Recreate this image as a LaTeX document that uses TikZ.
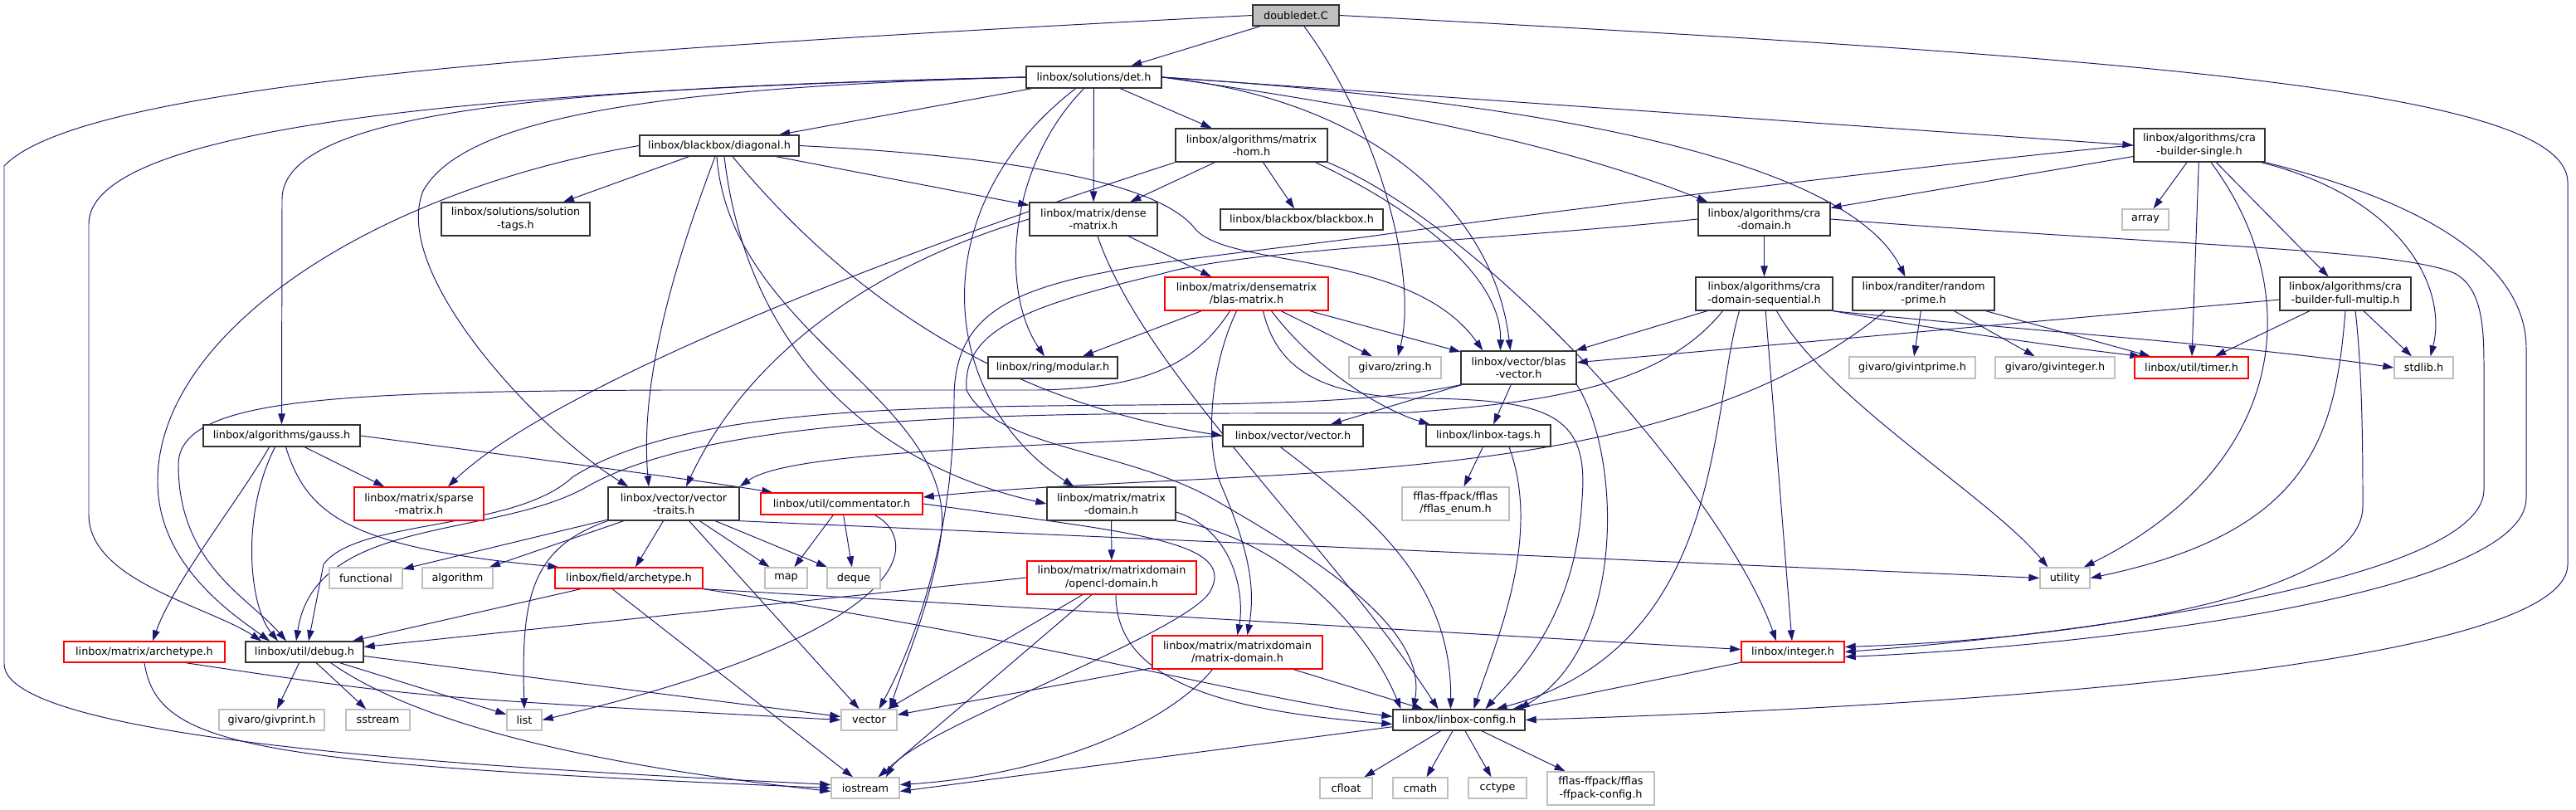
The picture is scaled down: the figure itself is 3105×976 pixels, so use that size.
\documentclass[tikz,border=0pt]{standalone}
\usepackage{fontspec}
\setmainfont{DejaVu Sans}
\usetikzlibrary{arrows.meta,calc}
\definecolor{mb}{HTML}{191970}
\definecolor{gb}{HTML}{BFBFBF}
\newcommand{\nodefnt}{\fontsize{7.3}{8.6}\selectfont}
\pgfdeclarelayer{back}
\pgfdeclarelayer{edges}
\pgfsetlayers{back,edges,main}
\tikzset{
  nbase/.style={rectangle, inner sep=0pt, align=center, font=\nodefnt, fill=white, line width=0.8pt},
  bk/.style={nbase, draw=black!80},
  gy/.style={nbase, draw=gb},
  rd/.style={nbase, draw=red},
  sz/.style 2 args={minimum width=#1cm, minimum height=#2cm},
  dep/.style={draw=mb, line width=0.55pt, -{Triangle[length=0.26cm,width=0.17cm]}},
}
\begin{document}
\begin{tikzpicture}[x=0.02cm,y=-0.02cm]
\useasboundingbox (0,0) rectangle (3105,976);
\begin{pgfonlayer}{back}
\fill[white] (0,0) rectangle (3105,976);
\end{pgfonlayer}
% nodes
\node[bk, fill=gb, sz={2.08}{0.50}] (doubledet) at (1562,18.5) {doubledet.C};
\node[bk, sz={3.26}{0.52}] (det) at (1318.5,93) {linbox/solutions/det.h};
\node[bk, sz={3.84}{0.50}] (diagonal) at (867,175.5) {linbox/blackbox/diagonal.h};
\node[bk, sz={3.66}{0.80}] (matrixhom) at (1508.5,175) {linbox/algorithms/matrix\\-hom.h};
\node[bk, sz={3.16}{0.80}] (crasingle) at (2651,175) {linbox/algorithms/cra\\-builder-single.h};
\node[bk, sz={3.58}{0.80}] (soltags) at (621.5,264) {linbox/solutions/solution\\-tags.h};
\node[bk, sz={3.08}{0.80}] (densematrix) at (1318,264) {linbox/matrix/dense\\-matrix.h};
\node[bk, sz={3.92}{0.50}] (blackbox) at (1569,264.5) {linbox/blackbox/blackbox.h};
\node[bk, sz={3.18}{0.80}] (cradomain) at (2126.5,264) {linbox/algorithms/cra\\-domain.h};
\node[gy, sz={1.12}{0.50}] (array) at (2586,264.5) {array};
\node[rd, sz={3.94}{0.80}] (blasmatrix) at (1502.5,354) {linbox/matrix/densematrix\\/blas-matrix.h};
\node[bk, sz={3.30}{0.80}] (cradomseq) at (2126.5,354) {linbox/algorithms/cra\\-domain-sequential.h};
\node[bk, sz={3.42}{0.80}] (randprime) at (2318.5,354) {linbox/randiter/random\\-prime.h};
\node[bk, sz={3.16}{0.80}] (fullmultip) at (2827,354) {linbox/algorithms/cra\\-builder-full-multip.h};
\node[bk, sz={3.12}{0.52}] (modular) at (1269,443) {linbox/ring/modular.h};
\node[gy, sz={2.22}{0.52}] (zring) at (1681.5,443) {givaro/zring.h};
\node[bk, sz={2.78}{0.80}] (blasvector) at (1830.5,443) {linbox/vector/blas\\-vector.h};
\node[gy, sz={3.04}{0.52}] (givintprime) at (2305,443) {givaro/givintprime.h};
\node[gy, sz={2.88}{0.52}] (givinteger) at (2477,443) {givaro/givinteger.h};
\node[rd, sz={2.74}{0.52}] (timer) at (2641.5,443) {linbox/util/timer.h};
\node[gy, sz={1.42}{0.52}] (stdlib) at (2921.5,443) {stdlib.h};
\node[bk, sz={3.78}{0.52}] (gauss) at (339.5,525) {linbox/algorithms/gauss.h};
\node[bk, sz={3.38}{0.52}] (vectorh) at (1558.5,525) {linbox/vector/vector.h};
\node[bk, sz={3.00}{0.52}] (linboxtags) at (1794,525) {linbox/linbox-tags.h};
\node[rd, sz={3.12}{0.80}] (sparse) at (505,607) {linbox/matrix/sparse\\-matrix.h};
\node[bk, sz={3.16}{0.80}] (vectortraits) at (812,607) {linbox/vector/vector\\-traits.h};
\node[rd, sz={3.90}{0.52}] (commentator) at (1014.5,607) {linbox/util/commentator.h};
\node[bk, sz={3.10}{0.80}] (matrixdomain) at (1339.5,607) {linbox/matrix/matrix\\-domain.h};
\node[gy, sz={2.58}{0.80}] (fflasenum) at (1754.5,607) {fflas-ffpack/fflas\\/fflas\_enum.h};
\node[gy, sz={1.76}{0.50}] (functional) at (441,696.5) {functional};
\node[gy, sz={1.70}{0.50}] (algorithm) at (551.5,696.5) {algorithm};
\node[rd, sz={3.56}{0.50}] (fieldarch) at (758,696.5) {linbox/field/archetype.h};
\node[gy, sz={1.02}{0.50}] (map) at (947.5,696.5) {map};
\node[gy, sz={1.28}{0.50}] (deque) at (1029,696.5) {deque};
\node[rd, sz={4.08}{0.80}] (opencl) at (1340,696) {linbox/matrix/matrixdomain\\/opencl-domain.h};
\node[gy, sz={1.20}{0.50}] (utility) at (2489,696.5) {utility};
\node[rd, sz={3.88}{0.50}] (matrixarch) at (174,785.5) {linbox/matrix/archetype.h};
\node[bk, sz={2.84}{0.50}] (debug) at (367,785.5) {linbox/util/debug.h};
\node[rd, sz={4.10}{0.80}] (matrixdomain2) at (1491.5,786) {linbox/matrix/matrixdomain\\/matrix-domain.h};
\node[rd, sz={2.48}{0.50}] (integer) at (2161,785.5) {linbox/integer.h};
\node[gy, sz={2.54}{0.50}] (givprint) at (327.5,867.5) {givaro/givprint.h};
\node[gy, sz={1.54}{0.50}] (sstream) at (455.5,867.5) {sstream};
\node[gy, sz={0.84}{0.50}] (list) at (632,867.5) {list};
\node[gy, sz={1.34}{0.50}] (vector) at (1047.5,867.5) {vector};
\node[bk, sz={3.18}{0.50}] (config) at (1758.5,867.5) {linbox/linbox-config.h};
\node[gy, sz={1.64}{0.50}] (iostream) at (1043,949.5) {iostream};
\node[gy, sz={1.26}{0.50}] (cfloat) at (1622.5,949.5) {cfloat};
\node[gy, sz={1.32}{0.50}] (cmath) at (1712,949.5) {cmath};
\node[gy, sz={1.40}{0.50}] (cctype) at (1805,949.5) {cctype};
\node[gy, sz={2.58}{0.80}] (ffpackconfig) at (1929.5,950) {fflas-ffpack/fflas\\-ffpack-config.h};
% edges
\begin{pgfonlayer}{edges}
% doubledet
\draw[dep] (doubledet) -- (det);
\draw[dep] (doubledet) .. controls (1660,150) and (1710,330) .. (zring);
\draw[dep] (doubledet.west) .. controls (700,60) and (100,100) .. (5,200) -- (5,800) .. controls (5,900) and (700,930) .. ($(iostream.west)+(0,-4)$);
\draw[dep] (doubledet.east) .. controls (2600,70) and (3095,110) .. (3095,220) -- (3095,680) .. controls (3095,800) and (2400,850) .. (config.east);
% det
\draw[dep] (det) -- (diagonal);
\draw[dep] (det) -- (matrixhom);
\draw[dep] (det) -- (densematrix);
\draw[dep] (det.east) .. controls (1700,135) and (1900,180) .. ($(cradomain.north west)+(12,0)$);
\draw[dep] (det.east) -- (crasingle.west);
\draw[dep] (det.east) .. controls (1900,125) and (2230,200) .. ($(randprime.north)+(-22,0)$);
\draw[dep] (det.east) .. controls (1650,120) and (1800,250) .. ($(blasvector.north)+(-10,0)$);
\draw[dep] ($(det.south)+(-12,0)$) .. controls (1215,200) and (1205,350) .. ($(modular.north)+(-10,0)$);
\draw[dep] (det.west) .. controls (700,105) and (340,130) .. (340,240) -- (gauss.north);
\draw[dep] (det.west) .. controls (600,108) and (107,150) .. (107,270) -- (107,620) .. controls (107,700) and (250,730) .. ($(debug.north)+(-52,0)$);
\draw[dep] (det.west) .. controls (800,105) and (560,140) .. (510,230) .. controls (470,330) and (650,520) .. ($(vectortraits.north west)+(25,0)$);
\draw[dep] ($(det.south)+(-22,0)$) .. controls (1110,250) and (1130,480) .. ($(matrixdomain.north)+(-45,0)$);
% diagonal
\draw[dep] (diagonal) -- (soltags);
\draw[dep] (diagonal) -- ($(densematrix.north west)+(0,4)$);
\draw[dep] (diagonal.east) .. controls (1250,190) and (1400,225) .. (1440,275) .. controls (1480,325) and (1700,300) .. ($(blasvector.north west)+(27,0)$);
\draw[dep] ($(diagonal.south)+(16,0)$) .. controls (1000,330) and (1180,480) .. (vectorh.west);
\draw[dep] (diagonal.west) .. controls (450,230) and (190,400) .. (190,580) .. controls (190,680) and (280,740) .. ($(debug.north)+(-42,0)$);
\draw[dep] ($(diagonal.south)+(-5,0)$) .. controls (820,300) and (770,450) .. ($(vectortraits.north)+(-30,0)$);
\draw[dep] ($(diagonal.south)+(-3,0)$) .. controls (880,400) and (1150,480) .. (1135,640) .. controls (1125,720) and (1090,800) .. ($(vector.north)+(25,0)$);
\draw[dep] ($(diagonal.south)+(6,0)$) .. controls (900,420) and (1050,560) .. (matrixdomain.west);
% matrix-hom
\draw[dep] (matrixhom.south west) .. controls (1000,330) and (650,480) .. ($(sparse.north)+(35,0)$);
\draw[dep] (matrixhom) -- (densematrix);
\draw[dep] (matrixhom) -- (blackbox);
\draw[dep] ($(matrixhom.south east)+(-15,0)$) .. controls (1700,250) and (1810,330) .. ($(blasvector.north)+(-22,0)$);
\draw[dep] (matrixhom.south east) .. controls (1800,280) and (2080,600) .. ($(integer.north)+(-20,0)$);
% cra-builder-single
\draw[dep] (crasingle) -- (cradomain);
\draw[dep] (crasingle) -- (array);
\draw[dep] (crasingle) -- (timer);
\draw[dep] (crasingle) -- (fullmultip);
\draw[dep] ($(crasingle.south east)+(-5,0)$) .. controls (2900,240) and (2950,350) .. ($(stdlib.north)+(8,0)$);
\draw[dep] ($(crasingle.south)+(14,0)$) .. controls (2780,350) and (2760,560) .. ($(utility.north east)+(-8,0)$);
\draw[dep] (crasingle.south east) .. controls (2950,250) and (3045,330) .. (3045,420) -- (3045,600) .. controls (3045,720) and (2500,780) .. ($(integer.east)+(0,6)$);
\draw[dep] (crasingle.west) .. controls (2400,190) and (1900,250) .. (1650,285) .. controls (1300,330) and (1150,330) .. (1150,480) .. controls (1150,650) and (1100,780) .. ($(vector.north)+(12,0)$);
% dense-matrix
\draw[dep] (densematrix) -- (blasmatrix);
\draw[dep] (densematrix.west) .. controls (1050,320) and (900,430) .. ($(vectortraits.north)+(15,0)$);
\draw[dep] ($(densematrix.south)+(5,0)$) .. controls (1380,450) and (1600,650) .. ($(config.north)+(-25,0)$);
% cra-domain
\draw[dep] (cradomain) -- (cradomseq);
\draw[dep] (cradomain.east) .. controls (2600,295) and (2900,300) .. (2960,330) .. controls (2994,350) and (2994,400) .. (2994,450) -- (2994,590) .. controls (2994,700) and (2500,765) .. (integer.east);
\draw[dep] (cradomain.west) .. controls (1800,290) and (1500,300) .. (1400,330) .. controls (1230,370) and (1160,400) .. (1165,470) .. controls (1200,540) and (1350,540) .. (1460,600) .. controls (1600,680) and (1720,760) .. ($(config.north)+(-55,0)$);
% blas-matrix
\draw[dep] (blasmatrix) -- (modular);
\draw[dep] (blasmatrix) -- (zring);
\draw[dep] (blasmatrix) -- (blasvector);
\draw[dep] ($(blasmatrix.south)+(30,0)$) .. controls (1590,450) and (1670,495) .. ($(linboxtags.north west)+(5,0)$);
\draw[dep] ($(blasmatrix.south)+(-20,0)$) .. controls (1440,440) and (1380,468) .. (1250,470) -- (800,470) .. controls (400,472) and (215,480) .. (215,560) .. controls (215,680) and (300,720) .. ($(debug.north)+(-22,0)$);
\draw[dep] ($(blasmatrix.south)+(-12,0)$) .. controls (1455,450) and (1455,540) .. (1470,580) .. controls (1500,650) and (1515,700) .. ($(matrixdomain2.north)+(12,0)$);
\draw[dep] ($(blasmatrix.south)+(20,0)$) .. controls (1540,450) and (1600,475) .. (1700,480) .. controls (1870,480) and (1915,500) .. (1907,600) .. controls (1900,750) and (1820,820) .. ($(config.north)+(32,0)$);
% cra-domain-sequential
\draw[dep] (cradomseq) -- (blasvector);
\draw[dep] (cradomseq.south east) .. controls (2350,400) and (2500,420) .. ($(timer.north west)+(8,0)$);
\draw[dep] (cradomseq.south east) .. controls (2400,395) and (2700,415) .. (stdlib.west);
\draw[dep] ($(cradomseq.south)+(15,0)$) .. controls (2200,480) and (2400,600) .. ($(utility.north west)+(10,0)$);
\draw[dep] (cradomseq) -- (integer);
\draw[dep] ($(cradomseq.south)+(-30,0)$) .. controls (2060,500) and (2080,780) .. ($(config.north)+(45,0)$);
\draw[dep] ($(cradomseq.south)+(-50,0)$) .. controls (2000,470) and (1850,485) .. (1700,497) .. controls (1400,502) and (900,480) .. (710,585) .. controls (600,650) and (380,620) .. ($(debug.north)+(-10,0)$);
% random-prime
\draw[dep] (randprime) -- (givintprime);
\draw[dep] (randprime) -- (givinteger);
\draw[dep] (randprime) -- (timer);
\draw[dep] ($(randprime.south west)+(40,0)$) .. controls (2000,600) and (1500,560) .. ($(commentator.east)+(0,-8)$);
% cra-builder-full-multip
\draw[dep] (fullmultip) -- (blasvector);
\draw[dep] (fullmultip) -- (timer);
\draw[dep] (fullmultip) -- (stdlib);
\draw[dep] (fullmultip.south) .. controls (2815,520) and (2790,640) .. (utility.east);
\draw[dep] ($(fullmultip.south)+(12,0)$) .. controls (2848,450) and (2848,560) .. (2848,610) .. controls (2848,720) and (2500,770) .. ($(integer.east)+(0,-6)$);
% gauss
\draw[dep] (gauss) -- (sparse);
\draw[dep] ($(gauss.south)+(-15,0)$) .. controls (290,600) and (210,700) .. ($(matrixarch.north)+(10,0)$);
\draw[dep] ($(gauss.south)+(-8,0)$) .. controls (290,620) and (300,730) .. ($(debug.north)+(-32,0)$);
\draw[dep] ($(gauss.south)+(5,0)$) .. controls (370,620) and (420,660) .. ($(fieldarch.north west)+(5,0)$);
\draw[dep] (gauss.east) .. controls (700,560) and (850,580) .. ($(commentator.north west)+(15,0)$);
% vector-traits
\draw[dep] (vectortraits) -- (fieldarch);
\draw[dep] (vectortraits) -- (functional);
\draw[dep] (vectortraits) -- (algorithm);
\draw[dep] (vectortraits) -- (map);
\draw[dep] (vectortraits) -- (deque);
\draw[dep] (vectortraits) -- (vector);
\draw[dep] (vectortraits.south west) .. controls (640,660) and (628,720) .. (list.north);
\draw[dep] (vectortraits.south east) -- (utility.west);
% commentator
\draw[dep] (commentator) -- (map);
\draw[dep] (commentator) -- (deque);
\draw[dep] ($(commentator.south)+(40,0)$) .. controls (1110,650) and (1110,760) .. (list.east);
\draw[dep] (commentator.east) .. controls (1350,640) and (1490,650) .. (1460,710) .. controls (1440,760) and (1100,880) .. ($(iostream.north)+(25,0)$);
% matrix/matrix-domain
\draw[dep] (matrixdomain) -- (opencl);
\draw[dep] ($(matrixdomain.east)+(0,10)$) .. controls (1490,640) and (1500,720) .. (matrixdomain2.north);
\draw[dep] (matrixdomain.south east) .. controls (1550,650) and (1650,760) .. ($(config.north)+(-70,0)$);
% field/archetype
\draw[dep] (fieldarch) -- (debug);
\draw[dep] ($(fieldarch.south)+(-20,0)$) -- ($(iostream.north)+(-15,0)$);
\draw[dep] (fieldarch.south east) -- ($(integer.west)+(0,-3)$);
\draw[dep] (fieldarch.south east) .. controls (1300,780) and (1500,840) .. ($(config.west)+(0,-4)$);
% matrix/archetype
\draw[dep] ($(matrixarch.south)+(50,0)$) .. controls (500,840) .. (vector.west);
\draw[dep] (matrixarch.south) .. controls (190,900) and (300,920) .. (iostream.west);
% debug
\draw[dep] (debug) -- (givprint);
\draw[dep] (debug) -- (sstream);
\draw[dep] (debug) -- (list);
\draw[dep] ($(debug.south east)+(-40,0)$) .. controls (500,870) and (700,920) .. ($(iostream.west)+(0,4)$);
\draw[dep] ($(debug.east)+(0,5)$) -- ($(vector.west)+(0,-4)$);
% opencl
\draw[dep] (opencl.west) -- ($(debug.east)+(0,-6)$);
\draw[dep] (opencl) -- (vector);
\draw[dep] (opencl) -- (iostream);
\draw[dep] ($(opencl.south)+(5,0)$) .. controls (1345,830) and (1500,858) .. ($(config.west)+(0,5)$);
% matrixdomain/matrix-domain
\draw[dep] (matrixdomain2) -- (vector);
\draw[dep] ($(matrixdomain2.south)+(-30,0)$) .. controls (1400,880) and (1250,935) .. ($(iostream.east)+(0,-4)$);
\draw[dep] (matrixdomain2) -- (config);
% vector.h
\draw[dep] ($(vectorh.south)+(-15,0)$) .. controls (1650,620) and (1750,700) .. ($(config.north)+(-10,0)$);
\draw[dep] (vectorh.west) .. controls (1200,540) and (950,545) .. (vectortraits.north east);
% linbox-tags
\draw[dep] (linboxtags) -- (fflasenum);
\draw[dep] ($(linboxtags.south)+(25,0)$) .. controls (1860,650) and (1800,780) .. ($(config.north)+(18,0)$);
% blas-vector
\draw[dep] (blasvector) -- (vectorh);
\draw[dep] (blasvector) -- (linboxtags);
\draw[dep] (blasvector.south east) .. controls (1955,550) and (1960,780) .. ($(config.north east)+(-8,0)$);
\draw[dep] (blasvector.south west) .. controls (1500,520) and (900,440) .. (690,575) .. controls (620,640) and (430,625) .. (390,680) -- ($(debug.north)+(5,0)$);
% integer
\draw[dep] (integer) -- (config);
% linbox-config
\draw[dep] (config) -- (cfloat);
\draw[dep] (config) -- (cmath);
\draw[dep] (config) -- (cctype);
\draw[dep] (config) -- (ffpackconfig);
\draw[dep] ($(config.south west)+(0,-5)$) -- ($(iostream.east)+(0,4)$);
\end{pgfonlayer}
\end{tikzpicture}
\end{document}
